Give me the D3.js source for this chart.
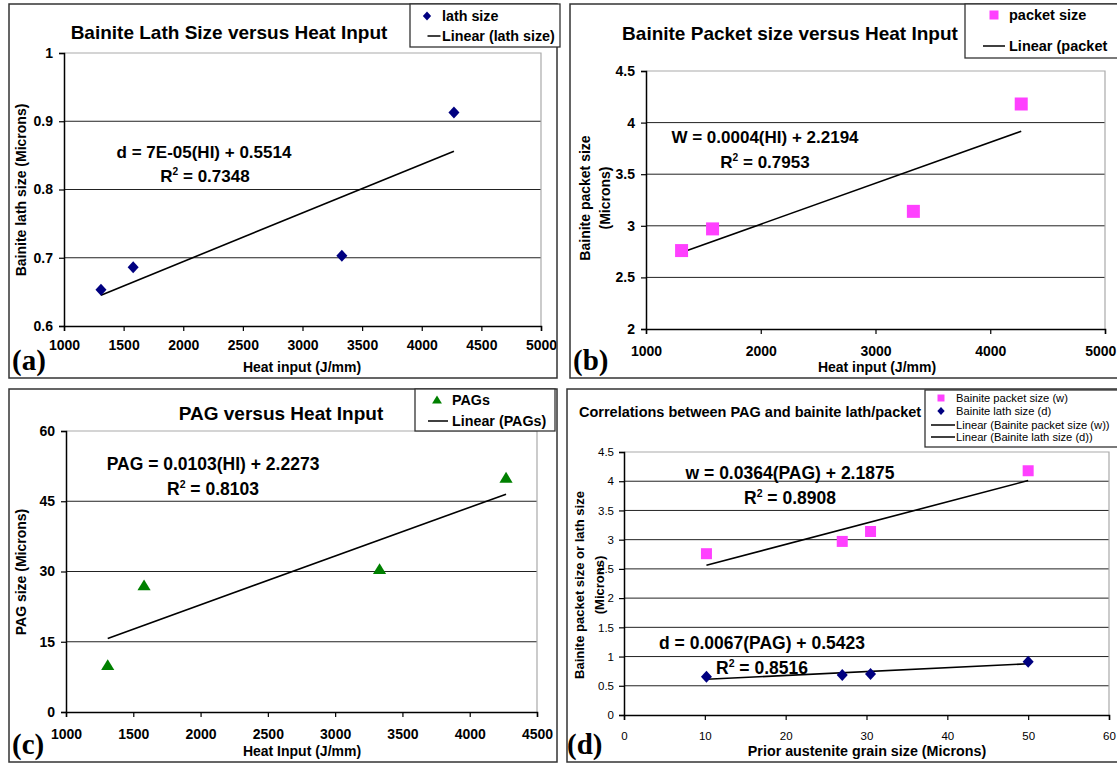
<!DOCTYPE html>
<html>
<head>
<meta charset="utf-8">
<script src="https://cdn.jsdelivr.net/npm/d3@7"></script>
<style>
  body { margin: 0; background: #fff; }
  svg { display: block; font-family: "Liberation Sans", Arial, sans-serif; }
</style>
</head>
<body>
<svg id="chart" width="1117" height="763"></svg>
<script>
// data
const heatInput = [1310, 1580, 3330, 4270];
const lathSize = [0.653, 0.686, 0.703, 0.913];
const packetSize = [2.76, 2.97, 3.14, 4.18];
const pagSize = [10, 27, 30.5, 50];
const pagX = [10.2, 27, 30.5, 50];

const ticksA_x = [1000, 1500, 2000, 2500, 3000, 3500, 4000, 4500, 5000];
const ticksA_y = [0.6, 0.7, 0.8, 0.9, 1];
const ticksB_x = [1000, 2000, 3000, 4000, 5000];
const ticksB_y = [2, 2.5, 3, 3.5, 4, 4.5];
const ticksC_x = [1000, 1500, 2000, 2500, 3000, 3500, 4000, 4500];
const ticksC_y = [0, 15, 30, 45, 60];
const ticksD_x = [0, 10, 20, 30, 40, 50, 60];
const ticksD_y = [0, 0.5, 1, 1.5, 2, 2.5, 3, 3.5, 4, 4.5];

const navy = "#000080", magenta = "#ff40ff", green = "#008000";

const W = 1117;
const svg = d3.select("#chart");
svg.append("rect").attr("width", W).attr("height", 763).attr("fill", "#fff");

// least squares fit, like excel's "Linear" trendline
function linReg(xs, ys) {
  const mx = d3.mean(xs), my = d3.mean(ys);
  let sxy = 0, sxx = 0;
  xs.forEach((x, i) => { sxy += (x - mx) * (ys[i] - my); sxx += (x - mx) * (x - mx); });
  const b = sxy / sxx;
  return { b: b, a: my - b * mx };
}

function marker(g, type, x, y, s, color) {
  let p;
  if (type == "diamond") p = `M${x},${y - s}L${x + s * 0.92},${y}L${x},${y + s}L${x - s * 0.92},${y}Z`;
  else if (type == "square") p = `M${x - s},${y - s}h${2 * s}v${2 * s}h${-2 * s}Z`;
  else p = `M${x},${y - s}L${x + s * 1.1},${y + s * 0.8}L${x - s * 1.1},${y + s * 0.8}Z`;
  g.append("path").attr("d", p).attr("fill", color);
}

function panel(cfg) {
  const g = svg.append("g");
  const [l, t, r, b] = cfg.plot;
  const x = d3.scaleLinear().domain(cfg.xDomain).range([l, r]);
  const y = d3.scaleLinear().domain(cfg.yDomain).range([b, t]);
  const bold = cfg.tickBold ? "bold" : "normal";

  // gridlines
  g.selectAll(".grid").data(cfg.yTicks.slice(1, -1)).enter().append("line")
    .attr("x1", l).attr("x2", r).attr("y1", d => y(d)).attr("y2", d => y(d))
    .attr("stroke", "#222").attr("stroke-width", 1);
  // plot area border
  g.append("path").attr("d", `M${l},${t}H${r}V${b}`).attr("fill", "none")
    .attr("stroke", "#aaa").attr("stroke-width", 1.2);

  // axes
  const xa = g.append("g").attr("transform", `translate(0,${b})`)
    .call(d3.axisBottom(x).tickValues(cfg.xTicks).tickSize(5).tickPadding(cfg.xPad).tickFormat(d3.format("d")));
  const ya = g.append("g").attr("transform", `translate(${l},0)`)
    .call(d3.axisLeft(y).tickValues(cfg.yTicks).tickSize(5).tickPadding(cfg.yPad).tickFormat(d => String(d)));
  [xa, ya].forEach(a => {
    a.select(".domain").attr("stroke", "#000").attr("stroke-width", 1.5);
    a.selectAll(".tick line").attr("stroke", "#000").attr("stroke-width", 1.2);
    a.selectAll("text").attr("font-family", "Liberation Sans, Arial, sans-serif")
      .attr("font-size", cfg.tickSize).attr("font-weight", bold).attr("fill", "#000");
  });
  // keep the last x label inside the page edge
  xa.selectAll(".tick text").each(function (d) {
    const bb = this.getBBox(), right = x(d) + bb.x + bb.width;
    if (right > W - 1) d3.select(this).attr("dx", (W - 1 - right) + "px");
  });

  // series and trendlines
  cfg.series.forEach(s => {
    const fit = linReg(s.x, s.y);
    const x0 = d3.min(s.x), x1 = d3.max(s.x);
    g.append("line").attr("x1", x(x0)).attr("y1", y(fit.a + fit.b * x0))
      .attr("x2", x(x1)).attr("y2", y(fit.a + fit.b * x1))
      .attr("stroke", "#000").attr("stroke-width", 1.6);
    s.x.forEach((v, i) => marker(g, s.type, x(v), y(s.y[i]), s.size, s.color));
  });

  // frame
  const [fx0, fy0, fx1, fy1] = cfg.frame;
  g.append("rect").attr("x", fx0).attr("y", fy0).attr("width", fx1 - fx0).attr("height", fy1 - fy0)
    .attr("fill", "none").attr("stroke", "#333").attr("stroke-width", 1.5);

  // title
  g.append("text").attr("x", cfg.title.x).attr("y", cfg.title.y)
    .attr("text-anchor", cfg.title.anchor || "middle").attr("font-size", cfg.title.size)
    .attr("font-weight", "bold").text(cfg.title.text);

  // axis titles
  g.append("text").attr("x", cfg.xTitle.x).attr("y", cfg.xTitle.y).attr("text-anchor", "middle")
    .attr("font-size", cfg.xTitle.size).attr("font-weight", "bold").text(cfg.xTitle.text);
  cfg.yTitle.lines.forEach((txt, i) => {
    g.append("text").attr("transform", `translate(${cfg.yTitle.xs[i]},${cfg.yTitle.y}) rotate(-90)`)
      .attr("text-anchor", "middle").attr("font-size", cfg.yTitle.size)
      .attr("font-weight", "bold").text(txt);
  });

  // equations
  cfg.eqs.forEach(e => {
    const tx = g.append("text").attr("x", e.x).attr("y", e.y).attr("text-anchor", "middle")
      .attr("font-size", e.size).attr("font-weight", "bold");
    if (e.r2) {
      tx.append("tspan").text("R");
      tx.append("tspan").attr("dy", -e.size * 0.4).attr("font-size", e.size * 0.6).text("2");
      tx.append("tspan").attr("dy", e.size * 0.4).text(" = " + e.text);
    } else tx.text(e.text);
  });

  // legend
  const L = cfg.legend;
  g.append("rect").attr("x", L.box[0]).attr("y", L.box[1]).attr("width", L.box[2] - L.box[0])
    .attr("height", L.box[3] - L.box[1]).attr("fill", "#fff").attr("stroke", "#333").attr("stroke-width", 1.3);
  L.items.forEach(it => {
    if (it.type == "line") g.append("line").attr("x1", it.mx - L.lw).attr("x2", it.mx + L.lw)
      .attr("y1", it.y).attr("y2", it.y).attr("stroke", "#000").attr("stroke-width", 1.5);
    else marker(g, it.type, it.mx, it.y, it.s, it.color);
    g.append("text").attr("x", L.tx).attr("y", it.y).attr("dy", "0.35em")
      .attr("font-size", L.size).attr("font-weight", L.bold ? "bold" : "normal").text(it.text);
  });

  // panel letter
  g.append("text").attr("x", cfg.letter.x).attr("y", cfg.letter.y)
    .attr("font-family", "Liberation Serif, Times New Roman, serif").attr("font-weight", "bold")
    .attr("font-size", 29).text(cfg.letter.text);
}

// (a)
panel({
  frame: [9, 4, 557, 378],
  plot: [64, 53, 541, 326],
  xDomain: [1000, 5000], yDomain: [0.6, 1],
  xTicks: ticksA_x, yTicks: ticksA_y, tickBold: true, tickSize: 14, xPad: 9, yPad: 6,
  series: [{ x: heatInput, y: lathSize, type: "diamond", size: 6, color: navy }],
  title: { text: "Bainite Lath Size versus Heat Input", x: 229, y: 39, size: 19 },
  xTitle: { text: "Heat input (J/mm)", x: 302, y: 372, size: 14 },
  yTitle: { lines: ["Bainite lath size (Microns)"], xs: [26], y: 190, size: 14 },
  eqs: [{ text: "d = 7E-05(HI) + 0.5514", x: 204, y: 158, size: 17 },
        { text: "0.7348", r2: true, x: 205, y: 182, size: 17 }],
  legend: { box: [410, 4, 560, 47], tx: 442, lw: 6.5, size: 14.3, bold: true, items: [
    { type: "diamond", mx: 427, y: 16, s: 4.5, color: navy, text: "lath size" },
    { type: "line", mx: 434, y: 36, text: "Linear (lath size)" }] },
  letter: { text: "(a)", x: 12, y: 370 }
});

// (b)
panel({
  frame: [570, 4, 1120, 378],
  plot: [646, 71, 1105, 329],
  xDomain: [1000, 5000], yDomain: [2, 4.5],
  xTicks: ticksB_x, yTicks: ticksB_y, tickBold: true, tickSize: 14, xPad: 12, yPad: 6,
  series: [{ x: heatInput, y: packetSize, type: "square", size: 6.5, color: magenta }],
  title: { text: "Bainite Packet size versus Heat Input", x: 790, y: 40, size: 19 },
  xTitle: { text: "Heat input (J/mm)", x: 877, y: 372, size: 14 },
  yTitle: { lines: ["Bainite packet size", "(Microns)"], xs: [590, 610], y: 198, size: 14 },
  eqs: [{ text: "W = 0.0004(HI) + 2.2194", x: 765, y: 143, size: 17 },
        { text: "0.7953", r2: true, x: 765, y: 168, size: 17 }],
  legend: { box: [965, 4, 1120, 58], tx: 1009, lw: 11, size: 14.5, bold: true, items: [
    { type: "square", mx: 994, y: 15, s: 4.5, color: magenta, text: "packet size" },
    { type: "line", mx: 994, y: 46, text: "Linear (packet" }] },
  letter: { text: "(b)", x: 573, y: 370 }
});

// (c)
panel({
  frame: [9, 389, 557, 762],
  plot: [66, 431, 537, 712],
  xDomain: [1000, 4500], yDomain: [0, 60],
  xTicks: ticksC_x, yTicks: ticksC_y, tickBold: true, tickSize: 14, xPad: 12, yPad: 6,
  series: [{ x: heatInput, y: pagSize, type: "triangle", size: 6, color: green }],
  title: { text: "PAG versus Heat Input", x: 281, y: 420, size: 19 },
  xTitle: { text: "Heat Input (J/mm)", x: 302, y: 756, size: 14 },
  yTitle: { lines: ["PAG size (Microns)"], xs: [26], y: 572, size: 14 },
  eqs: [{ text: "PAG = 0.0103(HI) + 2.2273", x: 213, y: 470, size: 17.5 },
        { text: "0.8103", r2: true, x: 213, y: 495, size: 17.5 }],
  legend: { box: [415, 389, 555, 431], tx: 452, lw: 10, size: 14.3, bold: true, items: [
    { type: "triangle", mx: 437, y: 400, s: 4.5, color: green, text: "PAGs" },
    { type: "line", mx: 438, y: 421, text: "Linear (PAGs)" }] },
  letter: { text: "(c)", x: 12, y: 754 }
});

// (d)
panel({
  frame: [567, 389, 1120, 762],
  plot: [624, 452, 1109, 715],
  xDomain: [0, 60], yDomain: [0, 4.5],
  xTicks: ticksD_x, yTicks: ticksD_y, tickBold: false, tickSize: 11.5, xPad: 12, yPad: 5,
  series: [{ x: pagX, y: packetSize, type: "square", size: 5.5, color: magenta },
           { x: pagX, y: lathSize, type: "diamond", size: 6, color: navy }],
  title: { text: "Correlations between PAG and bainite lath/packet", x: 579, y: 417, size: 14.5, anchor: "start" },
  xTitle: { text: "Prior austenite grain size (Microns)", x: 867, y: 756, size: 14.3 },
  yTitle: { lines: ["Bainite packet size or lath size", "(Microns)"], xs: [584, 604], y: 585, size: 13 },
  eqs: [{ text: "w = 0.0364(PAG) + 2.1875", x: 790, y: 479, size: 17.5 },
        { text: "0.8908", r2: true, x: 790, y: 504, size: 17.5 },
        { text: "d = 0.0067(PAG) + 0.5423", x: 762, y: 649, size: 17.5 },
        { text: "0.8516", r2: true, x: 762, y: 674, size: 17.5 }],
  legend: { box: [925, 390, 1120, 447], tx: 956, lw: 12, size: 11.2, bold: false, items: [
    { type: "square", mx: 941, y: 398, s: 3.5, color: magenta, text: "Bainite packet size (w)" },
    { type: "diamond", mx: 941, y: 411, s: 4, color: navy, text: "Bainite lath size (d)" },
    { type: "line", mx: 943, y: 425, text: "Linear (Bainite packet size (w))" },
    { type: "line", mx: 943, y: 437, text: "Linear (Bainite lath size (d))" }] },
  letter: { text: "(d)", x: 567, y: 754 }
});
</script>
</body>
</html>
